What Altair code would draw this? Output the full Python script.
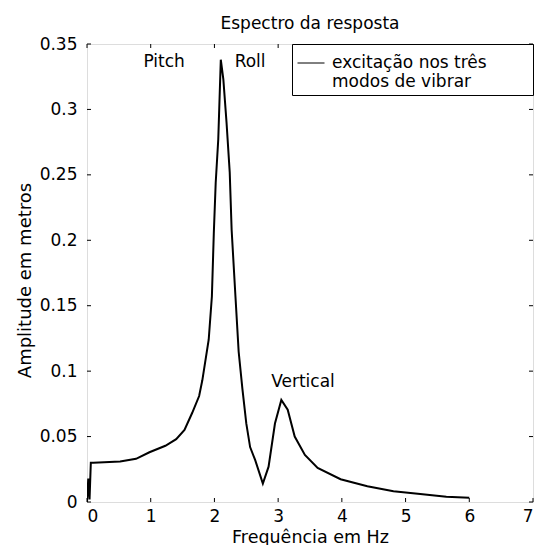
import altair as alt
import pandas as pd

# Spectrum curve
freq = [0.0, 0.02, 0.04, 0.06, 0.10, 0.52, 0.77, 0.98, 1.23, 1.40,
        1.53, 1.65, 1.76, 1.81, 1.91, 1.96, 1.99, 2.02, 2.06, 2.10,
        2.14, 2.19, 2.24, 2.27, 2.33, 2.38, 2.44, 2.50, 2.56, 2.64,
        2.76, 2.85, 2.95, 3.05, 3.15, 3.26, 3.42, 3.62, 3.98, 4.40,
        4.81, 5.23, 5.64, 6.0]
amp = [0.0, 0.018, 0.002, 0.030, 0.030, 0.031, 0.033, 0.038, 0.043, 0.048,
       0.055, 0.068, 0.081, 0.093, 0.124, 0.157, 0.205, 0.244, 0.277, 0.338,
       0.323, 0.290, 0.252, 0.208, 0.157, 0.115, 0.086, 0.060, 0.042, 0.032,
       0.014, 0.027, 0.060, 0.078, 0.0705, 0.050, 0.036, 0.026, 0.0174, 0.012,
       0.0082, 0.0061, 0.0041, 0.0033]
series_name = "excitação nos três modos de vibrar"
legend_lines = ["excitação nos três", "modos de vibrar"]

# Annotations
ann_text = ["Pitch", "Roll", "Vertical"]
ann_x = [1.21, 2.56, 3.39]
ann_y = [0.336, 0.336, 0.092]

# Ticks
x_ticks = [0, 1, 2, 3, 4, 5, 6, 7]
y_ticks = [0, 0.05, 0.1, 0.15, 0.2, 0.25, 0.3, 0.35]

W, H = 446, 458
FONT = "DejaVu Sans"

curve = pd.DataFrame({"f": freq, "a": amp, "s": [series_name] * len(freq)})
ann = pd.DataFrame({"t": ann_text, "f": ann_x, "a": ann_y})
xt = pd.DataFrame({"v": x_ticks})
yt = pd.DataFrame({"v": y_ticks})

xscale = alt.Scale(domain=[0, 7], nice=False, zero=False)
yscale = alt.Scale(domain=[0, 0.35], nice=False, zero=False)

label_expr = "[" + ", ".join("'" + s + "'" for s in legend_lines) + "]"

line = alt.Chart(curve).mark_line(strokeWidth=2, clip=True).encode(
    x=alt.X("f:Q", scale=xscale,
            axis=alt.Axis(values=x_ticks, format="d", title="Frequência em Hz",
                          ticks=False, domain=False, grid=False, labelPadding=6,
                          labelFont=FONT, labelFontSize=17, labelColor="black",
                          titleFont=FONT, titleFontSize=17.5, titleFontWeight="normal",
                          titleColor="black", titleY=40, titleBaseline="alphabetic")),
    y=alt.Y("a:Q", scale=yscale,
            axis=alt.Axis(values=y_ticks, format="~g", title="Amplitude em metros",
                          ticks=False, domain=False, grid=False, labelPadding=10,
                          labelFont=FONT, labelFontSize=17, labelColor="black",
                          titleFont=FONT, titleFontSize=18, titleFontWeight="normal",
                          titleColor="black", titleX=-62, titleY=236,
                          titleBaseline="middle")),
    color=alt.Color("s:N", scale=alt.Scale(range=["black"]),
                    legend=alt.Legend(
                        title="000000", titleOpacity=0, titleOrient="right",
                        titleFontSize=10, titlePadding=7,
                        orient="top-right", offset=0,
                        symbolType="stroke", symbolSize=729, symbolStrokeWidth=1,
                        labelFont=FONT, labelFontSize=17, labelColor="black",
                        labelLimit=500, labelOffset=7,
                        labelExpr=label_expr,
                        padding=5, strokeColor="black", fillColor="white",
                        cornerRadius=0)),
)

text = alt.Chart(ann).mark_text(font=FONT, fontSize=17, color="black",
                                baseline="middle", align="center").encode(
    x=alt.X("f:Q", scale=xscale), y=alt.Y("a:Q", scale=yscale), text="t:N")

tick_b = alt.Chart(xt).mark_rule(color="black", strokeWidth=1).encode(
    x=alt.X("v:Q", scale=xscale), y=alt.value(H), y2=alt.value(H - 4))
tick_t = alt.Chart(xt).mark_rule(color="black", strokeWidth=1).encode(
    x=alt.X("v:Q", scale=xscale), y=alt.value(0), y2=alt.value(4))
tick_l = alt.Chart(yt).mark_rule(color="black", strokeWidth=1).encode(
    y=alt.Y("v:Q", scale=yscale), x=alt.value(0), x2=alt.value(4))
tick_r = alt.Chart(yt).mark_rule(color="black", strokeWidth=1).encode(
    y=alt.Y("v:Q", scale=yscale), x=alt.value(W), x2=alt.value(W - 4))

chart = alt.layer(tick_b, tick_t, tick_l, tick_r, line, text).properties(
    width=W, height=H,
    title=alt.TitleParams("Espectro da resposta", font=FONT, fontSize=17,
                          fontWeight="normal", color="black", anchor="middle",
                          baseline="alphabetic", offset=16, dy=27),
    autosize=alt.AutoSizeParams(type="none"),
    padding={"left": 79, "top": 36, "right": 1, "bottom": 43},
).configure_view(stroke="black", strokeWidth=1.5).configure(background="white")

chart.save("out.html", embed_options={"renderer": "svg", "actions": False})
